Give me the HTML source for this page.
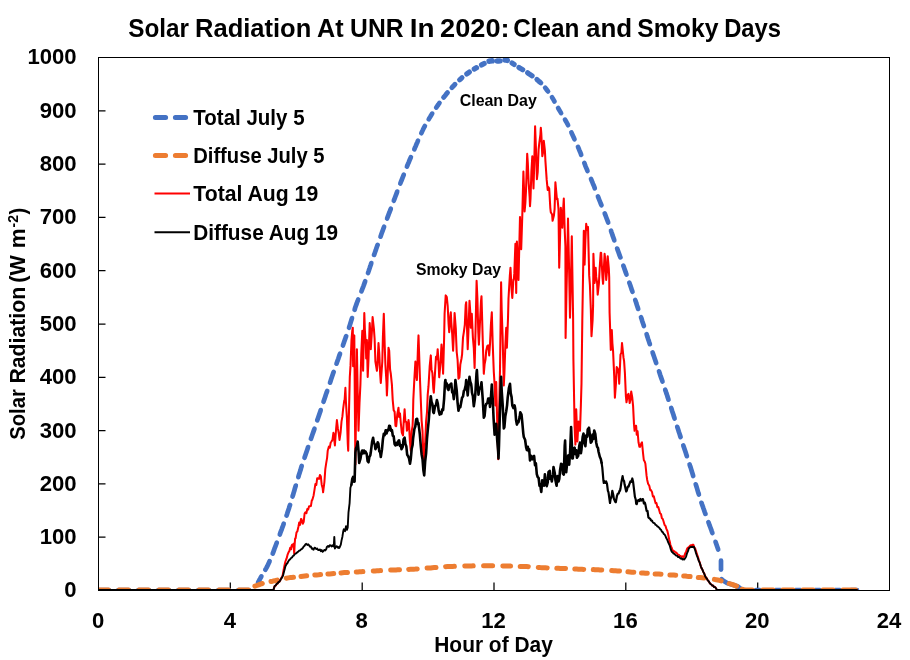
<!DOCTYPE html>
<html lang="en">
<head>
<meta charset="utf-8">
<title>Solar Radiation At UNR In 2020: Clean and Smoky Days</title>
<style>
html,body{margin:0;padding:0;background:#fff;}
body{width:910px;height:660px;overflow:hidden;font-family:'Liberation Sans', sans-serif;}
svg{display:block;}
</style>
</head>
<body>
<svg width="910" height="660" viewBox="0 0 910 660" font-family="'Liberation Sans', sans-serif" font-weight="bold" fill="#000">
<rect x="0" y="0" width="910" height="660" fill="#fff"/>
<defs><clipPath id="plot"><rect x="98" y="55" width="792" height="536"/></clipPath></defs>
<text y="36.5" font-size="25.5"><tspan x="128.17" textLength="60.82" lengthAdjust="spacingAndGlyphs">Solar</tspan> <tspan x="195.04" textLength="116.22" lengthAdjust="spacingAndGlyphs">Radiation</tspan> <tspan x="316.97" textLength="26.6" lengthAdjust="spacingAndGlyphs">At</tspan> <tspan x="350.12" textLength="53.42" lengthAdjust="spacingAndGlyphs">UNR</tspan> <tspan x="409.69" textLength="24.79" lengthAdjust="spacingAndGlyphs">In</tspan> <tspan x="440.05" textLength="69.52" lengthAdjust="spacingAndGlyphs">2020:</tspan> <tspan x="513.23" textLength="66.22" lengthAdjust="spacingAndGlyphs">Clean</tspan> <tspan x="586.02" textLength="46.15" lengthAdjust="spacingAndGlyphs">and</tspan> <tspan x="637.36" textLength="81.15" lengthAdjust="spacingAndGlyphs">Smoky</tspan> <tspan x="724.15" textLength="56.91" lengthAdjust="spacingAndGlyphs">Days</tspan></text>
<text x="27.4" y="64.4" font-size="21.6" text-anchor="start" textLength="49.2" lengthAdjust="spacingAndGlyphs">1000</text>
<text x="39.7" y="117.7" font-size="21.6" text-anchor="start" textLength="36.9" lengthAdjust="spacingAndGlyphs">900</text>
<text x="39.7" y="171.0" font-size="21.6" text-anchor="start" textLength="36.9" lengthAdjust="spacingAndGlyphs">800</text>
<text x="39.7" y="224.3" font-size="21.6" text-anchor="start" textLength="36.9" lengthAdjust="spacingAndGlyphs">700</text>
<text x="39.7" y="277.6" font-size="21.6" text-anchor="start" textLength="36.9" lengthAdjust="spacingAndGlyphs">600</text>
<text x="39.7" y="330.9" font-size="21.6" text-anchor="start" textLength="36.9" lengthAdjust="spacingAndGlyphs">500</text>
<text x="39.7" y="384.2" font-size="21.6" text-anchor="start" textLength="36.9" lengthAdjust="spacingAndGlyphs">400</text>
<text x="39.7" y="437.5" font-size="21.6" text-anchor="start" textLength="36.9" lengthAdjust="spacingAndGlyphs">300</text>
<text x="39.7" y="490.8" font-size="21.6" text-anchor="start" textLength="36.9" lengthAdjust="spacingAndGlyphs">200</text>
<text x="39.7" y="544.1" font-size="21.6" text-anchor="start" textLength="36.9" lengthAdjust="spacingAndGlyphs">100</text>
<text x="64.3" y="597.4" font-size="21.6" text-anchor="start" textLength="12.3" lengthAdjust="spacingAndGlyphs">0</text>
<text x="91.9" y="628" font-size="21.6" text-anchor="start" textLength="12.3" lengthAdjust="spacingAndGlyphs">0</text>
<text x="223.8" y="628" font-size="21.6" text-anchor="start" textLength="12.3" lengthAdjust="spacingAndGlyphs">4</text>
<text x="355.6" y="628" font-size="21.6" text-anchor="start" textLength="12.3" lengthAdjust="spacingAndGlyphs">8</text>
<text x="481.3" y="628" font-size="21.6" text-anchor="start" textLength="24.6" lengthAdjust="spacingAndGlyphs">12</text>
<text x="613.1" y="628" font-size="21.6" text-anchor="start" textLength="24.6" lengthAdjust="spacingAndGlyphs">16</text>
<text x="745.0" y="628" font-size="21.6" text-anchor="start" textLength="24.6" lengthAdjust="spacingAndGlyphs">20</text>
<text x="876.8" y="628" font-size="21.6" text-anchor="start" textLength="24.6" lengthAdjust="spacingAndGlyphs">24</text>
<text x="434.25" y="651.5" font-size="22.0" text-anchor="start" textLength="118.57" lengthAdjust="spacingAndGlyphs">Hour of Day</text>
<text transform="translate(25.2 439.6) rotate(-90)" font-size="21.6"><tspan x="-0.18" y="0" font-size="22.0" textLength="50.55" lengthAdjust="spacingAndGlyphs">Solar</tspan> <tspan x="56.03" y="0" font-size="22.0" textLength="96.73" lengthAdjust="spacingAndGlyphs">Radiation</tspan> <tspan x="156.98" y="0" font-size="22.0" textLength="27.5" lengthAdjust="spacingAndGlyphs">(W</tspan> <tspan x="191.48" y="0" font-size="22.0" textLength="19.79" lengthAdjust="spacingAndGlyphs">m</tspan> <tspan x="212.21" y="-7" font-size="14.3" textLength="12.47" lengthAdjust="spacingAndGlyphs">-2</tspan> <tspan x="225.18" y="0" font-size="22.0" textLength="6.72" lengthAdjust="spacingAndGlyphs">)</tspan></text>
<text x="459.7" y="105.6" font-size="17" text-anchor="start" textLength="77.08" lengthAdjust="spacingAndGlyphs">Clean Day</text>
<text x="415.94" y="274.7" font-size="17" text-anchor="start" textLength="85.02" lengthAdjust="spacingAndGlyphs">Smoky Day</text>
<path d="M98.5 110.8h7 M98.5 164.1h7 M98.5 217.4h7 M98.5 270.7h7 M98.5 324h7 M98.5 377.3h7 M98.5 430.6h7 M98.5 483.9h7 M98.5 537.2h7 M230.3 590.5v-8 M362.2 590.5v-8 M494 590.5v-8 M625.8 590.5v-8 M757.7 590.5v-8" stroke="#000" stroke-width="1.25" fill="none"/>
<g clip-path="url(#plot)">
<g fill="none" stroke="#4472C4" stroke-width="4.7" stroke-linecap="round" stroke-linejoin="round">
<polyline points="258,582.6 258.8,581.1 259.7,579.5 260.5,578 261.4,576.4"/>
<polyline points="265.3,569.8 266.3,568.1 267.2,566.4 268,564.7 268.8,563 269.6,561.2"/>
<polyline points="272.7,553.6 273.4,551.8 274.1,549.9 274.7,548.1 275.4,546.3 276.1,544.5 276.8,542.7"/>
<polyline points="279.8,534.5 280.4,532.7 281.1,530.9 281.8,529.1 282.4,527.3 283.1,525.5 283.7,523.7"/>
<polyline points="286.6,515.5 287.2,513.7 287.7,512 288.3,510.2 288.9,508.5 289.4,506.7 290,504.9"/>
<polyline points="292.5,496.6 293.1,494.8 293.6,492.9 294.2,491.1 294.7,489.2 295.2,487.4 295.8,485.6"/>
<polyline points="298.3,477.2 298.8,475.3 299.4,473.5 300,471.6 300.6,469.8 301.1,467.9 301.7,466"/>
<polyline points="304.5,457.8 305.1,456 305.7,454.2 306.3,452.4 306.9,450.7 307.5,448.9 308.1,447.1"/>
<polyline points="310.9,438.9 311.5,437.2 312.1,435.5 312.7,433.8 313.3,432.1 313.9,430.4 314.5,428.7"/>
<polyline points="317.2,420.4 317.8,418.7 318.4,417 319,415.2 319.6,413.5 320.2,411.8 320.7,410.1"/>
<polyline points="323.5,401.8 324.1,400 324.7,398.2 325.3,396.4 325.9,394.5 326.6,392.7 327.2,390.9"/>
<polyline points="330,382.7 330.6,380.9 331.2,379.1 331.8,377.3 332.4,375.5 333,373.7 333.7,371.9"/>
<polyline points="336.5,363.7 337.1,362 337.7,360.4 338.3,358.7 338.8,357.1 339.4,355.4 340,353.8"/>
<polyline points="342.9,345.5 343.4,344 344,342.4 344.5,340.8 345.1,339.2 345.6,337.7 346.2,336.1"/>
<polyline points="349,327.8 349.5,326.2 350,324.6 350.5,323 351,321.3 351.5,319.7 352,318.1"/>
<polyline points="354.6,309.8 355.1,308 355.7,306.3 356.3,304.6 356.9,302.9 357.6,301.2 358.2,299.5"/>
<polyline points="361.4,291.4 362.1,289.7 362.7,288 363.4,286.3 364,284.6 364.6,282.9 365.2,281.2"/>
<polyline points="368,273 368.6,271.3 369.1,269.7 369.7,268 370.2,266.4 370.8,264.7 371.3,263.1"/>
<polyline points="374.1,254.9 374.7,253.2 375.3,251.5 375.9,249.9 376.4,248.2 377,246.5 377.6,244.9"/>
<polyline points="380.5,236.7 381.1,235 381.7,233.3 382.3,231.7 382.9,230 383.5,228.4 384.1,226.7"/>
<polyline points="387.1,218.5 387.7,216.9 388.3,215.3 388.9,213.7 389.6,212 390.2,210.4 390.8,208.8"/>
<polyline points="393.8,200.7 394.5,198.9 395.2,197 395.9,195.2 396.6,193.4 397.2,191.6"/>
<polyline points="400.3,183.5 401,181.7 401.7,180 402.4,178.2 403.1,176.4 403.8,174.6"/>
<polyline points="406.9,166.6 407.6,165 408.2,163.4 408.9,161.9 409.5,160.3 410.2,158.7 410.9,157.1"/>
<polyline points="414.3,149.4 415,147.6 415.8,145.9 416.5,144.1 417.3,142.4 418,140.7"/>
<polyline points="421.3,133.2 422,131.7 422.7,130.3 423.4,128.8 424.1,127.4 424.9,126"/>
<polyline points="428.7,119.3 429.5,117.9 430.4,116.5 431.3,115 432.2,113.6"/>
<polyline stroke-width="4.7" points="436.2,107.6 437.3,106 438.4,104.5 439.5,102.9"/>
<polyline stroke-width="4.9" points="443.6,97.4 444.6,96.2 445.6,95 446.5,93.8 447.5,92.6"/>
<polyline stroke-width="5.0" points="451.9,87.6 452.9,86.5 454,85.4 455,84.3"/>
<polyline stroke-width="5.1" points="459.6,79.9 460.8,78.8 462,77.7"/>
<polyline stroke-width="5.2" points="466.8,73.9 468.1,73 469.3,72.1"/>
<polyline stroke-width="5.3" points="474.3,69 475.4,68.3 476.5,67.7"/>
<polyline stroke-width="5.3" points="481.6,64.9 482.9,64.2 484.1,63.5"/>
<polyline stroke-width="5.5" points="489.1,61.2 490.6,60.9 492.3,60.8"/>
<polyline stroke-width="5.5" points="497.3,61.1 498.6,61.1 499.9,60.9"/>
<polyline stroke-width="5.5" points="504.9,60 506.1,60.1 507.3,60.4"/>
<polyline stroke-width="5.2" points="512.1,63.1 513.1,63.7 514.1,64.4"/>
<polyline stroke-width="5.2" points="519,67.5 520.2,68.3 521.5,69 522.7,69.7"/>
<polyline stroke-width="5.2" points="527.7,72.8 529.1,73.8 530.6,74.8 532.1,75.8"/>
<polyline stroke-width="5.1" points="536.9,79.5 538.2,80.6 539.5,81.8 540.8,82.9"/>
<polyline stroke-width="4.8" points="545.2,87.8 546.2,89 547.1,90.2 548,91.4"/>
<polyline points="552,97.3 552.9,98.7 553.7,100.1 554.5,101.5"/>
<polyline points="558.1,108 559.1,109.7 560.1,111.4 561.1,113.1"/>
<polyline points="565,119.6 565.8,121 566.6,122.4 567.4,123.8 568.1,125.2"/>
<polyline points="571.4,132.5 572.2,134.2 573,135.9 573.7,137.6 574.5,139.3"/>
<polyline points="578,147 578.7,148.5 579.3,150.1 580,151.7 580.6,153.2 581.2,154.8"/>
<polyline points="584.3,162.9 584.9,164.5 585.5,166.1 586.2,167.8 586.9,169.4 587.5,171"/>
<polyline points="591,178.9 591.6,180.5 592.3,182 592.9,183.6 593.6,185.2 594.2,186.7 594.8,188.3"/>
<polyline points="597.9,196.4 598.6,198.2 599.3,200 600,201.7 600.7,203.5 601.5,205.3"/>
<polyline points="604.7,213.4 605.4,215.2 606.1,217 606.8,218.8 607.5,220.6 608.2,222.5"/>
<polyline points="611,230.7 611.5,232.3 612.1,233.9 612.6,235.6 613.2,237.2 613.8,238.8 614.3,240.4"/>
<polyline points="617.2,248.6 617.8,250.4 618.5,252.2 619.1,253.9 619.7,255.7 620.4,257.4"/>
<polyline points="623.3,265.6 624,267.4 624.6,269.2 625.2,270.9 625.8,272.7 626.5,274.5"/>
<polyline points="629.3,282.7 630,284.5 630.6,286.3 631.2,288.1 631.8,289.9 632.5,291.8"/>
<polyline points="635.2,300 635.9,301.8 636.4,303.6 637,305.4 637.6,307.1 638.2,308.9"/>
<polyline points="641,317.2 641.6,318.9 642.1,320.7 642.7,322.5 643.3,324.2 643.9,326"/>
<polyline points="646.6,334.2 647.1,335.9 647.7,337.6 648.2,339.2 648.8,340.9 649.3,342.5 649.9,344.2"/>
<polyline points="652.6,352.4 653.2,354.2 653.8,356 654.4,357.7 655,359.5 655.6,361.3 656.2,363.1"/>
<polyline points="659,371.3 659.6,373 660.1,374.7 660.7,376.4 661.3,378.1 661.9,379.8 662.5,381.5"/>
<polyline points="665.2,389.8 665.8,391.4 666.3,393.1 666.9,394.7 667.4,396.4 668,398.1 668.5,399.7"/>
<polyline points="671.2,408 671.8,409.8 672.3,411.5 672.9,413.3 673.5,415 674,416.8 674.6,418.5"/>
<polyline points="677.2,426.8 677.8,428.5 678.4,430.3 678.9,432 679.5,433.7 680,435.4 680.6,437.1"/>
<polyline points="683.3,445.4 683.9,447.2 684.5,449 685.1,450.8 685.7,452.6 686.3,454.4 686.9,456.2"/>
<polyline points="689.6,464.5 690.1,466.1 690.7,467.7 691.2,469.4 691.7,471 692.2,472.7 692.7,474.3 693.2,476"/>
<polyline points="695.7,484.3 696.3,486 696.8,487.7 697.3,489.4 697.8,491.1 698.3,492.8 698.9,494.5"/>
<polyline points="701.5,502.8 702.1,504.6 702.8,506.5 703.4,508.3 704.1,510.2 704.7,512 705.4,513.9"/>
<polyline points="708.4,522.1 709.1,523.9 709.7,525.7 710.4,527.5 711.1,529.3 711.7,531.1 712.4,533"/>
<polyline points="715.5,541.8 718.2,549.5"/>
<polyline points="721,560.7 721,569.6"/>
<polyline points="721.6,579.2 723,580.6 727,583 738,586.6 741,589"/>
<polyline points="98.4,590 108.9,590"/>
<polyline points="118.4,590 128.9,590"/>
<polyline points="138.4,590 148.9,590"/>
<polyline points="158.4,590 168.9,590"/>
<polyline points="178.4,590 188.9,590"/>
<polyline points="198.4,590 208.9,590"/>
<polyline points="218.4,590 228.9,590"/>
<polyline points="238.4,590 248.9,590"/>
<polyline points="737.5,590 745,590"/>
<polyline points="756,590 760,590"/>
<polyline points="775.5,590 780.5,590"/>
<polyline points="795.5,590 800.5,590"/>
<polyline points="815,590 820,590"/>
<polyline points="835,590 840,590"/>
<polyline points="851,590 857,590"/>
</g>
<g fill="none" stroke="#ED7D31" stroke-width="5.0" stroke-linecap="round" stroke-linejoin="round">
<polyline points="99,590 100.9,590 102.8,590 104.7,590 106.6,590 108.5,590"/>
<polyline points="119,590 120.9,590 122.8,590 124.7,590 126.6,590 128.5,590"/>
<polyline points="139,590 140.9,590 142.8,590 144.7,590 146.6,590 148.5,590"/>
<polyline points="159,590 160.9,590 162.8,590 164.7,590 166.6,590 168.5,590"/>
<polyline points="179,590 180.9,590 182.8,590 184.7,590 186.6,590 188.5,590"/>
<polyline points="199,590 200.9,590 202.8,590 204.7,590 206.6,590 208.5,590"/>
<polyline points="219,590 220.9,590 222.8,590 224.7,590 226.6,590 228.5,590"/>
<polyline points="239,590 240.9,590 242.8,590 244.7,590 246.6,590 248.5,590"/>
<polyline points="254.9,586.2 256.8,585.5 258.6,584.8 260.4,584.1 262.3,583.5"/>
<polyline points="271,581.5 272.6,581.2 274.1,580.8 275.7,580.5 277.3,580.1"/>
<polyline points="286.3,578.2 288.1,577.9 289.9,577.6 291.7,577.4 293.5,577.2"/>
<polyline points="301,576.4 302.9,576.2 304.8,576 306.7,575.8"/>
<polyline points="314.8,575.1 316.7,574.9 318.7,574.8 320.6,574.6"/>
<polyline points="327.9,574 329.8,573.9 331.8,573.7 333.7,573.5"/>
<polyline points="341,572.9 342.6,572.7 344.2,572.6 345.9,572.5 347.5,572.4"/>
<polyline points="356.3,572 357.9,571.9 359.6,571.8 361.2,571.7 362.9,571.6"/>
<polyline points="373.3,571 375.1,570.9 377,570.8 378.8,570.7 380.6,570.6"/>
<polyline points="390.7,570.1 392.5,570 394.2,570 396,569.9 397.7,569.8 399.5,569.7"/>
<polyline points="408.7,569.4 410.4,569.3 412.1,569.2 413.8,569.2 415.5,569.1 417.2,568.9"/>
<polyline points="427.1,568.1 428.9,568 430.7,567.9 432.4,567.7 434.2,567.6 436,567.5"/>
<polyline points="445.6,566.7 447.4,566.6 449.1,566.5 450.9,566.5 452.6,566.4 454.4,566.3"/>
<polyline points="464.8,566 466.5,565.9 468.2,565.9 469.8,565.9 471.5,565.9 473.2,565.8"/>
<polyline points="483.6,565.7 485.4,565.7 487.2,565.7 489,565.7 490.8,565.7 492.6,565.7"/>
<polyline points="502.8,565.9 504.8,566 506.7,566 508.7,566 510.6,566.1"/>
<polyline points="520.2,566.4 521.8,566.4 523.4,566.5 525.1,566.5 526.7,566.6 528.3,566.7"/>
<polyline points="538.3,567.4 540.1,567.6 541.9,567.7 543.6,567.7 545.4,567.8 547.2,567.9"/>
<polyline points="556.8,568.2 558.5,568.3 560.3,568.4 562,568.4 563.8,568.5 565.5,568.6"/>
<polyline points="574.8,569 576.6,569.1 578.4,569.2 580.1,569.2 581.9,569.3 583.7,569.4"/>
<polyline points="593.3,569.6 595,569.7 596.7,569.8 598.3,569.8 600,569.9 601.7,570"/>
<polyline points="611.7,570.5 613.7,570.7 615.6,570.8 617.5,570.9 619.5,571.1"/>
<polyline points="627.9,571.8 629.9,572 631.8,572.2 633.8,572.3"/>
<polyline points="641.5,572.9 643.4,573 645.4,573.2 647.3,573.3"/>
<polyline points="655.1,573.9 657.1,574 659,574.1 661,574.3"/>
<polyline points="669.9,574.9 671.8,575 673.8,575.1 675.7,575.3"/>
<polyline points="683.7,576 685.3,576.1 686.9,576.3 688.5,576.4 690.1,576.6"/>
<polyline points="698.3,577.4 700.2,577.6 702.2,577.8 704.1,578.1"/>
<polyline points="714.4,579.4 716.1,579.7 717.8,580 719.4,580.4 721.1,580.9"/>
<polyline points="729.2,583.5 731,584.1 732.9,584.7 734.7,585.4 736.5,586.1"/>
<polyline points="742.1,589.3 743.8,589.7 745.5,590 747.2,590 748.9,590 750.6,590 752.3,590"/>
<polyline points="762.7,590 764.4,590 766.2,590 767.9,590 769.6,590 771.4,590 773.1,590"/>
<polyline points="782.7,590 784.4,590 786.2,590 787.9,590 789.6,590 791.4,590 793.1,590"/>
<polyline points="802.9,590 804.6,590 806.3,590 808,590 809.7,590 811.4,590 813.1,590"/>
<polyline points="822.9,590 824.6,590 826.3,590 828,590 829.7,590 831.4,590 833.1,590"/>
<polyline points="842.9,590 844.7,590 846.5,590 848.3,590 850.1,590 851.9,590 853.7,590 855.5,590"/>
</g>
<g fill="none" stroke="#FF0000" stroke-width="2.0" stroke-linejoin="round" stroke-linecap="round">
<polyline points="98,590 273.5,590 274,587.9 274.6,586.2 275.8,585.6 276.7,583.9 277.6,583.6 278.5,582 279.4,581.7 280,580.8 281.2,578.1 282.1,577 282.6,575.6 283.6,570 284.8,563.9 285.4,561.5 286.6,558.4 287.5,554.9 288.5,552.3 289.3,551.2 290.2,547.7 291.1,549.3 291.5,546.2 292,544.8 292.9,546.5 293.5,543.8 294.2,553.8 294.7,543.8 295.1,538.5 295.6,538.4 296.5,532.4 297.4,531.3 298.5,526.2 299.2,522.4 300.1,524.9 301,519 301.5,519.2 302.8,523.8 303.7,521.8 304.6,513.5 305.4,512.3 306.4,513.3 307.3,508.9 308.2,509.4 309.1,506.3 310,506.2 310.9,506.1 311.8,500.4 312.3,500 313.6,495.4 314.6,489.2 315.4,484 316.3,485 317.2,478.2 317.7,478.5 319,478.9 319.9,474.9 320.8,476.2 321.7,484.7 322.6,488 323.1,492.3 324.4,482.1 325.3,469.1 326.2,463.1 327.1,457.8 327.7,450.8 328.9,446.6 329.8,447.8 330.7,442.5 331.5,441.5 332.5,439.7 333.4,432.8 333.8,433.8 334.3,440.4 334.9,445.4 336.1,428.9 336.9,420 337.9,428.7 338.8,433.8 339.5,440 340.6,432.6 341.5,421.7 342.4,416.4 343.1,409.2 344.2,400.8 344.6,400 345.4,387.7 346,403"/>
<polyline stroke-width="2.05" points="346,403 346.9,417.8 347.8,443.9 348.2,450.8 348.7,424 349.8,377 350.5,365.9 351.5,340 352.3,330.4 352.8,327.7 353.1,366.2 354.3,335.4 355,420.8 355.4,464.6 355.9,422 356.9,349.2 357.7,393.1 358.5,430.8 359.5,402.9 360.4,384.8 360.8,370.8 361.3,353.4 362.3,330.8 363.1,370.8 364.3,313.1 364.9,330.9 365.8,343.9 366.2,358.5 366.9,340 367.7,377 368.5,359.2 369.7,323 370.3,332.4 370.8,349.2 372.1,328.1 372.6,317 373.9,328.9 374.6,338.5 375.4,361.5 376.9,370.8 377.5,365 378.5,343 379.3,353.8 380.2,374.8 380.8,383 382.3,361.5 382.9,337.4 383.8,313.8 384.7,345.3 385.4,364.6 386.5,382.8 386.9,395.4 387.4,384.8 388.5,347.7 389.2,350.8 390.1,369.8 390.8,373.8 391.9,384.6 392.7,400 393.7,410.4 394.6,411.6 395.5,425.9 396.2,426.2 397.3,414.2 398.5,407.7 399.1,416.9 400,413.6 400.8,423 401.8,432.5 403,435.4 403.6,423.5 404.6,409.2 405.4,421.8 406.3,421.9 406.9,430.8 408.1,426.4 408.5,420 409,423.6 409.9,441.2 410.8,450.8 411.7,431.4 412.6,425.6 413,415.4 413.3,400 414.4,378.2 415.4,361.5 416.2,375.2 416.9,380 418,346.5 418.5,335.4 420,380 420.8,400 421.6,420.3 422.5,430.8 423.4,457.5 423.8,463 424.3,449.3 425.2,442.5 426.1,421.2 427,412.2 427.7,395 428.5,386.2 429.7,366 430.8,355.4 431.5,369.4 432.4,373 433.3,388.5 433.8,392.6 435.4,366.2 436,356.7 436.9,359.3 437.7,349.2 438.7,366.1 439.2,377.3 440.5,363.2 441.5,344.6 442.3,354.8 443.1,373.8 444.1,338.8 444.6,313.8 445.7,295.4 446.8,297.1 447.7,306.2 448.6,323.9 449.2,332.3 450.4,315.6 450.8,312.3 451.3,322.4 452.2,334 453.1,350.8 454,330.6 454.6,313 455.8,328.5 456.2,340 456.7,352 457.6,360 458.5,378.8 459.4,377.4 460.3,364.6 461.5,358.5 462.1,354.3 463,337.6 463.8,332.3 464.8,325 465.7,304.9 466.2,302.3 467.7,349.2 468.4,332.1 469.5,300.8 470.2,310.7 470.8,327.7 471.8,313.8 472.9,337.6 473.8,347.9 474.6,368 475.6,327.4 476.6,280.8 477.4,298.2 478.3,332.3 478.9,344.6 480,321.5 481,301 481.5,296.2 482.8,342.2 483.8,373.8 484.6,364.3 485.5,359.6 486.2,350.8 487.3,346.1 488.2,345.4 489.2,355.4 490,344.1 490.9,324.8 491.8,312.3 492.7,343.4 493.8,372 494.5,382.9 495.4,405.4 496.2,382 497.2,422.3 498.2,459.2 499,417.7 500,370 501.1,282.3 501.7,310.4 502.6,335.9 503.8,385.4 504.4,373.3 505.3,346.8 506.2,327.7 506.9,347.7 508,318.2 508.5,298.5 509.8,276.2 510.5,267.7 511.6,290 512.3,298 513.4,279.6 513.8,280 514.3,273.4 515.4,243.8 516.2,293 516.9,241.5 517.9,263.1 518.5,280 520,217 520.6,236.5 521.2,249.2 522.3,215.4 523.4,171.5 524.2,194.3 524.6,211.5 525.4,202.3 526,190.8 527.2,153.8 527.8,162.8 528.7,183.5 529.6,196.8 530,206.2 530.5,198.7 531.4,171.9 532.3,156.2 533.5,188.5 534.1,168.8 535.1,126.2 535.9,147 536.9,179.2 537.7,172.1 538.6,149.3 539.2,143.8 540.4,134.7 540.8,127.7 541.3,133.6 542.3,156.2 543.1,152.3 543.8,140.8 544.9,150.5 545.4,160.8 546.7,179.9 547.7,190 548.5,187.3 549.2,188.5 550.3,207.8 550.8,212.3 552.1,214.5 552.6,220.8 553.9,215.6 554.6,209.2 555.4,182.3 556.9,199.2 557.5,198.6 558.5,209.2 559.2,267.7 560.2,232.1 560.8,207.7 562.3,227.7 562.9,213.5 563.8,198.5 564.7,229.9 565.4,246.2 565.6,338 566.5,290.9 567.4,252.3 568,218.5 569.2,274.5 570,317.7 571,277.4 571.8,236.2 573.1,317.7 573.4,359.2 574.6,426.2 575.4,444.6 576.2,409.2 577.4,441.5 578.5,421.5 579.1,422.6 580,430.8 580.9,404.3 581.5,383.5 582.3,320.8 583.8,230.8 584.6,264.6 585.4,239.9 586.2,223.8 587.2,230 588,227 589.2,275.4 589.9,284.9 590.8,308.5 591.5,336.2 592.6,320.1 593.1,305.4 593.4,253.8 594.6,283 595.3,271.6 595.7,267.7 596.2,276.9 597.1,282.7 597.7,294.6 598.9,283.6 599.7,267.7 600.7,252.8 601.2,253 602.5,277.7 603.1,283.8 604.6,253.8 605.2,258.6 606.2,280 607,271.3 607.7,256.2 608.8,268.4 609.2,277 609.6,313 610.8,350 611.8,330 612.4,343.3 613.1,351.5 614.2,375.9 614.9,397.7 616,382.6 616.7,367 617.7,368.5 618.7,373.7 619.2,383.8 620.5,354.6 621.4,352.6 622,343 623.5,357.7 624.1,361.2 624.9,373 625.9,396.5 626.5,402.3 627.7,394.9 628.5,393.8 629.7,403 630.4,399.7 631.2,391.5 632.2,397.1 633.1,406.2 634,424.4 634.6,430.8 635.8,425.7"/>
<polyline points="635.8,425.7 636.2,426.2 636.7,434.8 637.6,431.3 638.5,442.3 639.4,446.7 640,446.9 641.2,443.5 642,442.3 643,452.9 643.8,460 644.8,461.8 645.4,463.8 646.6,475.9 647.2,480 648.1,483.8 649.3,485.7 650.2,490 650.7,489.7 652,491.9 652.9,496.6 653.8,496.2 654.6,499.5 655.6,503.3 656.5,503.1 657.4,507.3 658.3,507.1 659.5,511.3 660.1,513.5 661,514 661.9,518.3 662.8,519 663.5,521.2 664.6,525 665.5,525.9 666.4,528.9 667.4,531 668.2,534.4 669.1,539.2 670,542.6 670.4,544.8 670.9,546.3 671.8,548 672.3,549.7 673.6,551.1 674.5,551.3 675.4,552.5 676.3,552.6 677.2,553.7 678.1,554.8 679,554.9 679.9,556.1 680.8,556 681.2,556.6 681.7,557.1 682.6,556.3 683.5,557 684.1,556.6 685.3,553.1 686.2,551.4 687.1,548.7 688,547.6 688.9,547.2 690,545.8 690.7,545.2 691.6,545.7 692.5,544.7 693.4,544.8 694.3,547.3 695.2,548.6 695.9,550.7 697,554.4 697.9,556.7 698.8,560.1 699.7,562.4 700.9,566.5 701.5,568.1 702.4,569.5 703.3,572 704.2,573.4 705.1,576 705.8,577.3 706.9,578.4 707.8,580.5 708.7,581.2 709.6,582.9 710.7,584.2 711.4,584.5 712.3,585.7 713.2,585.6 714.1,587.1 715,586.9 715.6,587.7 717,590 857,590"/>
</g>
<g fill="none" stroke="#000" stroke-width="1.9" stroke-linejoin="round" stroke-linecap="round">
<polyline points="98,590 273.5,590 274,588.1 274.6,586.2 275.8,585.1 276.7,583.9 277.6,583.4 278.5,582.1 279.4,581.6 280,580.8 281.2,578.6 282.1,577.4 283.1,575.4 283.9,572 284.8,568.8 285.4,566.2 286.6,564 287.5,563 288.4,561.2 289.2,560 290.2,559.2 291.1,558 292,557.5 292.9,556 293.8,555.6 294.7,554.2 295.4,553.8 296.5,553.1 297.4,552.1 298.3,551.7 299.2,550.7 300.1,550.4 301,549.4 301.5,549.2 302.8,548 303.7,546.5 304.6,545.8 305.5,544.2 306.2,543.8 307.3,544.9 308.2,544.3 309.2,545.4 310,546.7 310.9,546.5 311.8,548.7 312.7,548.5 313.1,549.5 313.6,549.7 314.5,547.8 315.4,548 316.3,549.1 317.2,548.6 318.1,550.1 319.2,550 319.9,549.4 320.8,551.2 321.7,550.1 322.6,551.8 323.1,551.5 324.4,549.9 325.3,550.4 326.2,549.2 326.9,546.9 328,545.9 328.9,546.9 329.8,545.2 330.8,545.4 331.6,546.5 332.5,545.2 333.4,546.4 333.8,546.2 334.3,536.9 334.9,548.5 336.1,546.6 336.9,546.2 337.9,547.8 338.8,547.1 339.2,548 339.7,547.2 340.8,544.6 341.5,540.6 342.4,536.7 343.3,530.9 343.8,529.2 345.1,531.2 346,526.2 346.9,529.8 347.7,527.7 348.5,512.3 349.6,503.1 350.4,487.7 350.4,487.7 351.4,484.8"/>
<polyline stroke-width="2.6" points="351.4,484.8 352.3,478.8 353.1,476.9 354.1,481.7 354.6,481.5 355.4,452.3 355.9,448.6 356.8,446.6 357.7,441.5 358.6,451.9 359.2,463 360.4,459 361.5,452.3 362.2,450.5 363.1,453.3 364,450.6 364.9,453.1 365.4,451.5 366.7,453.8 367.6,461.2 368.5,462.3 369.4,456.9 370.3,455.3 370.8,452.3 372.1,441.9 373.1,437.7 373.9,442.9 374.8,444.4 375.4,449.2 376.6,446.4 377.7,442.3 378.4,443.7 379.3,451.3 380.2,452.5 380.8,457 382,449.2 382.9,439.4 383.8,433.8 384.7,435.1 385.6,430.4 386.5,433.5 386.9,432.3 387.4,430 388.3,430.4 389.2,425.7 390,426.2 391,430.8 391.9,430.1 392.3,432.3 392.8,435.9 393.7,436.3 394.6,444 395.4,445.4 396.4,442.8 397.3,444.9 398.5,440.8 399.1,440.3 400,446 400.9,445.2 401.5,449.2 402.7,446.8 403.6,439.2 404.6,437.7 405.4,444 406.3,446.2 407.2,454.9 407.7,455.4 409,458.3 410,463.8 410.8,458.7 411.7,448.7 412.6,445 413.1,438.5 414.4,428.9 415.3,426.5 416.2,419.2 417.1,418.8 418,424.4 418.5,423 419.8,434.2 420.8,446.2 421.6,454.2 422.5,459 423.4,470.2 424.2,475.4 425.2,461 426.1,453.3 427,438.7 427.7,431 428.8,419.8 429.7,407.6 430.8,396.2 431.5,401.6 432.4,404.2 433.3,412.4 433.8,413 435.1,406 436,405.1 436.9,400 437.8,403.6 438.7,410.9 439.7,414.6 440.5,412.2 441.4,413.8 442.3,409.2 443.1,410 444.1,399 445,382.5 445.4,380 445.9,384.6 446.8,383.5 447.7,388.8 448.5,390 449.5,385.1 450.4,386.1 450.8,383.8 451.3,383.6 452.2,392.3 453.1,393.2 453.8,399.2 454.9,388.3 455.4,380 456.7,390.3 457.6,402.8 458.5,410.8 459.4,406.4 460.3,407.2 461.5,400.8 462.1,397.6 463,396.5 463.9,390.8 464.6,390 465.7,385.3 466.2,380 467.7,395.4 468.4,387.2 469.5,376.9 470.2,381.4 471.1,383.9 471.5,386.9 472,392.8 472.9,396.3 473.8,406.2 474.7,400.1 475.4,393 476.5,373.4 476.9,370 477.4,379.5 478.5,394.6 479.2,389.6 480,388.5 481,385.9 481.5,382.3 482.8,400.1 483.8,417.7 484.6,416 485.5,406 486.2,403.8 487.3,403.2 488.2,398.5 489.2,398.5 490,407 490.9,397.6 491.8,384.6 492.7,398.7 493.6,418.7 494.6,434.6 495.4,428.2 496.2,423.8 497.2,440.1 498.1,450.6 498.5,458.5 499,445.2 499.9,412 501.1,376.9 501.7,390.9 502.6,403.6 503.8,428.5 504.4,427.2 505.3,416.3 506.2,411.5 507.1,405.1 507.7,397.7 508.9,388 510,383.8 510.7,393.1 511.6,397.1 512.3,405.4 513.4,408.1 514.6,405.4 515.2,408.6 516.1,420.3 516.9,424.6 517.9,422.2 518.5,422.3 519.7,416.6 520.3,412.3 521.5,414.6 522.3,422.3 523.3,433.6 523.8,437 525.1,439.8 526.2,447.7 526.9,450 527.8,446.8 528.7,451.2 529.2,449.2 530,460.5 530.5,455.4 531.5,456.2 532.3,459.3 533.1,457 534.1,455.9 535,465.1 535.4,463 535.9,463.5 536.8,474.1 537.7,477 538.6,477.9 539.5,485.9 540.4,484.2 540.8,489.2 541.3,491.9 542.2,480.2 543.1,483 544,485.7 544.9,474.4 545.4,478.5 546.7,486.1 547.7,482.3 548.5,472.2 549.7,470.8 550.3,478.9 551.2,476.2 551.8,481.5 553,474.4 553.5,467 554.8,473.3 555.4,480 556.6,485.8 557.5,476.1 558.5,481.5 559.3,478.9 560,470.8 561.1,463.8 562.3,464.6 562.9,473.6 563.8,474.6 564.7,445.9 565.1,440.5 565.6,457.5 566.2,472.3 567.7,457 568.3,455.4 569.2,464.6 570.1,451.8 571.1,427 571.9,446.1 572.3,458.5 572.8,458.3 573.7,448.4 574.6,447.7 575.5,454.2 576.4,450.3 576.9,457.7 578.2,455.8 579.2,446.2 580,442.6 580.9,453.2 581.5,449.2 582.7,436.7 583.5,433.5 584.5,442.8 585.4,446.2 586.3,435.4 587.2,436.6 587.7,429.6 589,427.7 590,436 590.8,442.8 591.8,441.5 592.6,434.5 593.5,438.9 594.2,430.5 595.3,433.8 596.2,442.5 597.1,446.8 598,448.1 598.5,451.5 599.8,456.8 600.8,459 601.6,462.8"/>
<polyline stroke-width="2.2" points="601.6,462.8 602.3,467.7 603.4,480.3 603.8,483 604.3,481 605.2,482.9 606.2,481.5 607,483.8 607.9,490.9 608.5,492.3 610,503 610.6,499.1 611.5,496.6 612.3,490.8 613.3,494.9 613.8,498.5 615.1,501.6 615.8,502.3 616.9,496.2 617.7,493.8 618.7,493.4 619.6,490.6 620,490.8 620.5,488.6 621.4,482.2 622.6,476.2 623.2,479.8 624.1,481.2 624.6,484.6 626.2,491.5 626.8,490.7 627.7,486.7 628.6,486.6 629.2,484.6 630.4,481.5 631.3,481.8 632.3,478.5 633.1,481.8 633.8,487.7 634.9,496.8 635.8,499.8 636.2,503.8 636.7,504.1 637.6,500.9 638.5,500 639.4,501 640.3,498.9 641.2,500.6 642.3,499.2 643,499.2 643.9,503.5 644.8,502.6 645.4,504.6 646.6,510.8 647.5,510.8 648.4,517.4 648.9,517.8 650.2,518.8 651.1,520.5 652,520.7"/>
<polyline points="652,520.7 652.9,522.5 653.6,522.8 654.7,523.4 655.6,524.9 656.5,525.2 657.4,526.6 658.3,526.8 659.5,528.1 660.1,529.1 661,529.7 661.9,531.7 662.8,532.2 663.7,533.9 664.6,534.5 665.4,535.9 666.4,538.3 667.3,539.9 668.2,542.4 669.4,544.8 670,546.5 670.9,549.7 671.7,551.7 672.7,552.4 673.6,553.6 674.5,553.9 675.4,555 676.3,555.6 677.2,555.8 678.1,557.1 679,557 680.2,558.2 680.8,558.6 681.7,558.5 682.6,559.5 683.5,559 684.1,559.6 685.3,558 686.1,556.6 687.1,553.1 688,551.2 688.7,548.7 689.8,547.5 691,546.8 691.6,547.1 692.5,546.6 693.4,547.2 694,546.8 695.2,550.2 695.9,552.7 697,556 697.9,558.1 698.8,560.9 699.7,562.7 700.9,566.5 701.5,568.1 702.4,569.6 703.3,571.9 704.2,573.6 705.1,576 705.8,577.3 706.9,578.7 707.8,580.4 708.7,581.2 709.6,582.8 710.7,584.2 711.4,584.5 712.3,585.6 713.2,585.8 714.1,587.1 715,587.1 715.6,587.7 717,590 857,590"/>
</g>
</g>
<rect x="98.5" y="57.5" width="791.0" height="533.0" fill="none" stroke="#000" stroke-width="1"/>
<g fill="none" stroke-linecap="round" stroke-width="5">
<path d="M155.4 117.5h10.2M175.4 117.5h10.2" stroke="#4472C4"/>
<path d="M155.4 155.6h10.2M175.4 155.6h10.2" stroke="#ED7D31"/>
</g>
<path d="M154.5 193.6h35.5" stroke="#FF0000" stroke-width="2.0" fill="none"/>
<path d="M154.5 232.3h35.5" stroke="#000" stroke-width="1.9" fill="none"/>
<text x="193.36" y="125.0" font-size="22.0" text-anchor="start" textLength="111.19" lengthAdjust="spacingAndGlyphs">Total July 5</text>
<text x="193.2" y="163.0" font-size="22.0" text-anchor="start" textLength="131.3" lengthAdjust="spacingAndGlyphs">Diffuse July 5</text>
<text x="193.35" y="201.0" font-size="22.0" text-anchor="start" textLength="124.83" lengthAdjust="spacingAndGlyphs">Total Aug 19</text>
<text x="193.2" y="240.0" font-size="22.0" text-anchor="start" textLength="144.9" lengthAdjust="spacingAndGlyphs">Diffuse Aug 19</text>
</svg>
</body>
</html>
